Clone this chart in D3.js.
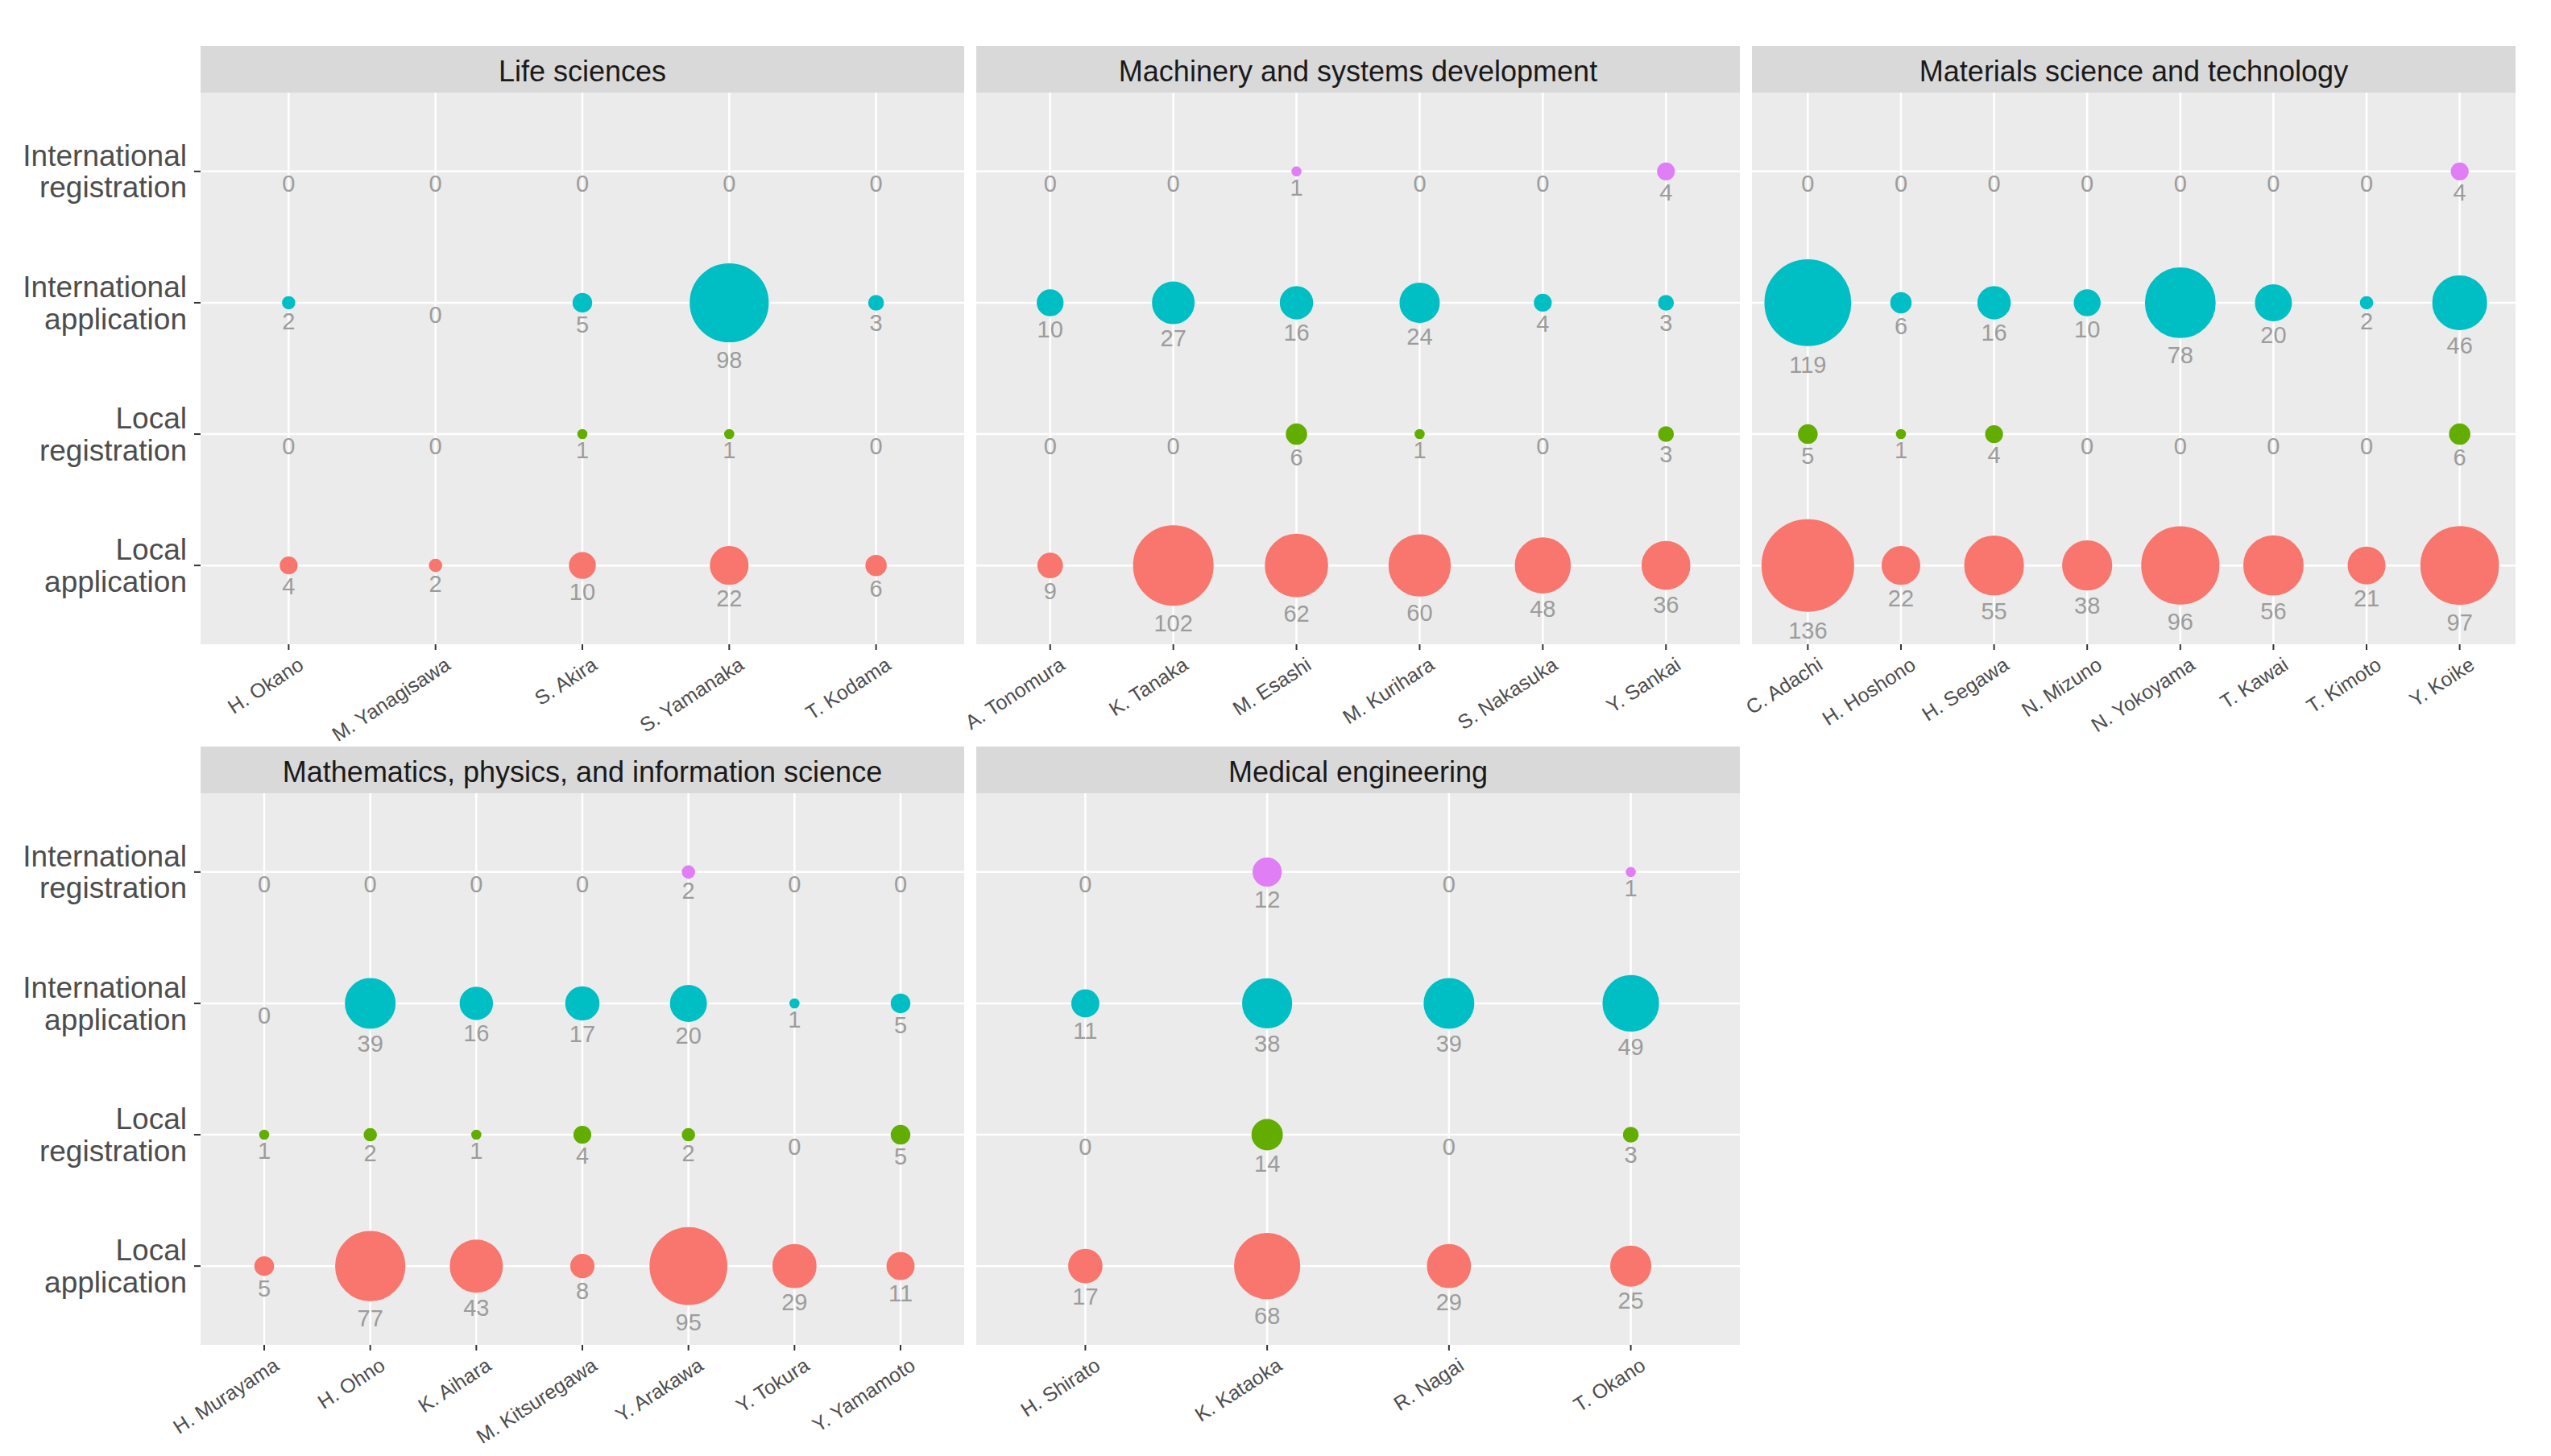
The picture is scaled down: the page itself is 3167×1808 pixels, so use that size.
<!DOCTYPE html>
<html>
<head>
<meta charset="utf-8">
<script src="https://cdn.jsdelivr.net/npm/d3@7"></script>
<style>
  body { margin: 0; background: #fff; }
  text { font-family: "Liberation Sans", Arial, sans-serif; }
</style>
</head>
<body>
<script>
// patent categories, bottom to top in the picture
var types = ["Local application", "Local registration", "International application", "International registration"];
var typeLabels = [["Local", "application"], ["Local", "registration"], ["International", "application"], ["International", "registration"]];
var typeColors = ["#F8766D", "#62AD00", "#00BFC4", "#E07EF6"];

var fields = ["Life sciences", "Machinery and systems development", "Materials science and technology",
              "Mathematics, physics, and information science", "Medical engineering"];

var lifeNames = ["H. Okano", "M. Yanagisawa", "S. Akira", "S. Yamanaka", "T. Kodama"];
var lifeLA = [4, 2, 10, 22, 6];
var lifeLR = [0, 0, 1, 1, 0];
var lifeIA = [2, 0, 5, 98, 3];
var lifeIR = [0, 0, 0, 0, 0];

var machNames = ["A. Tonomura", "K. Tanaka", "M. Esashi", "M. Kurihara", "S. Nakasuka", "Y. Sankai"];
var machLA = [9, 102, 62, 60, 48, 36];
var machLR = [0, 0, 6, 1, 0, 3];
var machIA = [10, 27, 16, 24, 4, 3];
var machIR = [0, 0, 1, 0, 0, 4];

var matNames = ["C. Adachi", "H. Hoshono", "H. Segawa", "N. Mizuno", "N. Yokoyama", "T. Kawai", "T. Kimoto", "Y. Koike"];
var matLA = [136, 22, 55, 38, 96, 56, 21, 97];
var matLR = [5, 1, 4, 0, 0, 0, 0, 6];
var matIA = [119, 6, 16, 10, 78, 20, 2, 46];
var matIR = [0, 0, 0, 0, 0, 0, 0, 4];

var mathNames = ["H. Murayama", "H. Ohno", "K. Aihara", "M. Kitsuregawa", "Y. Arakawa", "Y. Tokura", "Y. Yamamoto"];
var mathLA = [5, 77, 43, 8, 95, 29, 11];
var mathLR = [1, 2, 1, 4, 2, 0, 5];
var mathIA = [0, 39, 16, 17, 20, 1, 5];
var mathIR = [0, 0, 0, 0, 2, 0, 0];

var medNames = ["H. Shirato", "K. Kataoka", "R. Nagai", "T. Okano"];
var medLA = [17, 68, 29, 25];
var medLR = [0, 14, 0, 3];
var medIA = [11, 38, 39, 49];
var medIR = [0, 12, 0, 1];

var panels = [
  {field: fields[0], names: lifeNames, series: [lifeLA, lifeLR, lifeIA, lifeIR]},
  {field: fields[1], names: machNames, series: [machLA, machLR, machIA, machIR]},
  {field: fields[2], names: matNames, series: [matLA, matLR, matIA, matIR]},
  {field: fields[3], names: mathNames, series: [mathLA, mathLR, mathIA, mathIR]},
  {field: fields[4], names: medNames, series: [medLA, medLR, medIA, medIR]}
];

var width = 3167, height = 1808;
var left = 249, panelW = 948, gapX = 15;
var rowTop = [57, 927], stripH = 58, panelH = 685;

var svg = d3.select("body").append("svg")
  .attr("width", width)
  .attr("height", height);

svg.append("rect").attr("width", width).attr("height", height).attr("fill", "#fff");

var maxVal = d3.max(panels, function(p){ return d3.max(p.series, function(s){ return d3.max(s); }); });
var size = d3.scaleSqrt().domain([0, maxVal]).range([0, 56]);

// discrete axis with ggplot's 0.6 expansion
var yScale = d3.scalePoint().domain(types).range([panelH, 0]).padding(0.6);

panels.forEach(function(p, i)
{
  var col = i % 3, row = Math.floor(i / 3);
  var x0 = left + col * (panelW + gapX);
  var y0 = rowTop[row];

  var g = svg.append("g").attr("transform", "translate(" + x0 + "," + y0 + ")");

  g.append("rect")
    .attr("width", panelW).attr("height", stripH)
    .attr("fill", "#D9D9D9");
  g.append("text")
    .text(p.field)
    .attr("x", panelW / 2).attr("y", stripH / 2 + 2)
    .attr("text-anchor", "middle")
    .attr("dominant-baseline", "central")
    .attr("font-size", 36)
    .attr("fill", "#1A1A1A");

  var plot = g.append("g").attr("transform", "translate(0," + stripH + ")");
  plot.append("rect")
    .attr("width", panelW).attr("height", panelH)
    .attr("fill", "#EBEBEB");

  var xScale = d3.scalePoint().domain(p.names).range([0, panelW]).padding(0.6);

  plot.selectAll(".hgrid").data(types).enter().append("line")
    .attr("x1", 0).attr("x2", panelW)
    .attr("y1", function(d){ return yScale(d); })
    .attr("y2", function(d){ return yScale(d); })
    .attr("stroke", "#fff").attr("stroke-width", 2.5);

  plot.selectAll(".vgrid").data(p.names).enter().append("line")
    .attr("x1", function(d){ return xScale(d); })
    .attr("x2", function(d){ return xScale(d); })
    .attr("y1", 0).attr("y2", panelH)
    .attr("stroke", "#fff").attr("stroke-width", 2.5);

  var pts = [];
  p.series.forEach(function(s, k)
  {
    s.forEach(function(v, j){ pts.push({name: p.names[j], type: types[k], k: k, v: v}); });
  });

  plot.selectAll("circle").data(pts).enter().append("circle")
    .attr("cx", function(d){ return xScale(d.name); })
    .attr("cy", function(d){ return yScale(d.type); })
    .attr("r", function(d){ return size(d.v); })
    .attr("fill", function(d){ return typeColors[d.k]; })
    .attr("stroke", function(d){ return typeColors[d.k]; })
    .attr("stroke-width", 3);

  plot.selectAll(".lab").data(pts).enter().append("text")
    .text(function(d){ return d.v; })
    .attr("x", function(d){ return xScale(d.name); })
    .attr("y", function(d){ return yScale(d.type) + 13 + 1.18 * (size(d.v) + 1.5); })
    .attr("text-anchor", "middle")
    .attr("dominant-baseline", "central")
    .attr("font-size", 29)
    .attr("fill", "#9C9C9C");

  // x ticks and labels
  var xa = plot.append("g").attr("transform", "translate(0," + panelH + ")");
  xa.selectAll("line").data(p.names).enter().append("line")
    .attr("x1", function(d){ return xScale(d); })
    .attr("x2", function(d){ return xScale(d); })
    .attr("y1", 0).attr("y2", 7)
    .attr("stroke", "#333").attr("stroke-width", 2);
  xa.selectAll("text").data(p.names).enter().append("text")
    .text(function(d){ return d; })
    .attr("transform", function(d){ return "translate(" + (xScale(d) + 10) + ",14) rotate(-33)"; })
    .attr("dy", "0.75em")
    .attr("text-anchor", "end")
    .attr("font-size", 25)
    .attr("fill", "#4D4D4D");

  // y axis only in the left column
  if (col === 0)
  {
    var ya = plot.append("g");
    ya.selectAll("line").data(types).enter().append("line")
      .attr("x1", -8).attr("x2", 0)
      .attr("y1", function(d){ return yScale(d); })
      .attr("y2", function(d){ return yScale(d); })
      .attr("stroke", "#333").attr("stroke-width", 2);
    var yt = ya.selectAll("text").data(types).enter().append("text")
      .attr("x", -17)
      .attr("y", function(d){ return yScale(d); })
      .attr("text-anchor", "end")
      .attr("font-size", 37)
      .attr("fill", "#4D4D4D");
    yt.append("tspan")
      .attr("x", -17).attr("dy", "-0.18em")
      .text(function(d, k){ return typeLabels[k][0]; });
    yt.append("tspan")
      .attr("x", -17).attr("dy", "1.06em")
      .text(function(d, k){ return typeLabels[k][1]; });
  }
});
</script>
</body>
</html>
